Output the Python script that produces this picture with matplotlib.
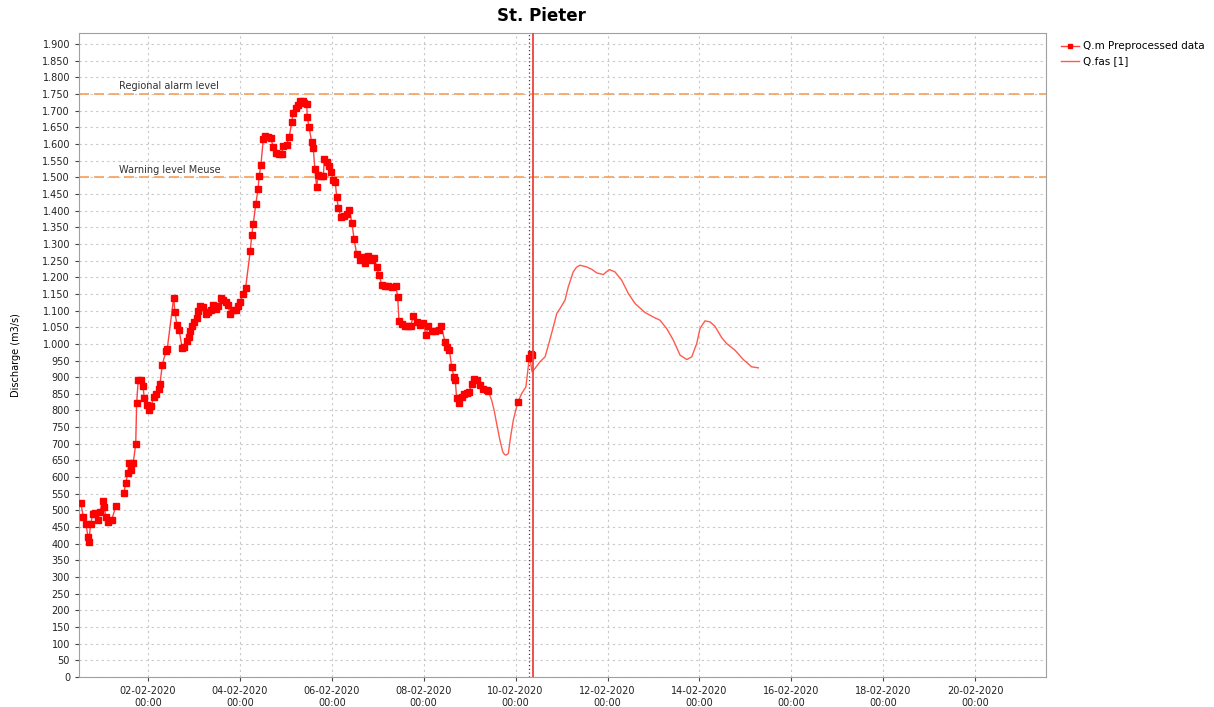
import numpy as np
import pandas as pd
import matplotlib
matplotlib.use("Agg")
import matplotlib.pyplot as plt
import matplotlib.dates as mdates
from matplotlib.ticker import MultipleLocator, FuncFormatter

# observed discharge, hours after 01-02-2020 00:00
obs_hours = [-11.0, -9.8, -8.4, -7.3, -7.0, -5.9, -4.9, -3.5, -2.3, -1.1, 0.3, 1.0, 2.1, 3.3, 5.0, 7.3,
             11.3, 12.4, 13.4, 14.2, 15.3, 16.3, 17.6, 18.1, 18.9, 20.3, 21.4, 22.1, 23.3, 24.7, 25.7,
             27.0, 28.2, 29.6, 30.3, 31.5, 33.4, 34.1, 37.4, 38.1, 39.1, 40.3, 41.8, 42.8, 44.2, 45.6,
             46.1, 47.1, 48.2, 49.4, 50.0, 51.2, 52.6, 54.1, 55.5, 56.7, 58.1, 59.5, 60.7, 62.0, 63.3,
             64.6, 65.6, 67.0, 68.4, 69.8, 71.2, 72.2, 73.5, 75.0, 77.4, 78.2, 79.0, 80.3, 81.5, 82.1,
             83.0, 84.2, 85.3, 86.8, 88.2, 89.4, 90.7, 92.3, 93.8, 94.7, 96.4, 97.8, 99.1, 99.9, 101.1,
             102.3, 103.4, 104.8, 105.6, 106.9, 107.2, 108.1, 109.5, 110.3, 111.2, 112.1, 112.9, 114.2,
             115.6, 116.1, 117.3, 118.7, 119.6, 120.8, 121.8, 122.6, 123.4, 124.8, 126.4, 127.8, 129.1,
             130.5, 131.6, 133.0, 134.7, 136.1, 137.3, 139.1, 140.8, 142.2, 143.4, 144.7, 146.2, 147.8,
             149.5, 151.3, 153.5, 154.4, 155.1, 156.5, 158.2, 160.0, 161.2, 162.6, 164.3, 166.1, 167.8,
             169.2, 170.4, 172.2, 173.9, 175.8, 177.2, 179.1, 180.0, 181.4, 182.6, 183.8, 184.5, 185.2,
             186.6, 187.8, 189.2, 190.5, 191.8, 193.1, 194.3, 195.7, 197.4, 199.1, 200.9, 201.7,
             217.1, 223.2, 223.9, 224.4]
obs_values = [521, 481, 458, 421, 404, 459, 489, 493, 471, 496, 528, 511, 481, 466, 471, 513,
              551, 581, 611, 643, 621, 643, 699, 823, 891, 891, 873, 836, 816, 801, 813,
              841, 851, 864, 881, 938, 978, 986, 1138, 1095, 1058, 1041, 989, 991, 1008, 1021,
              1039, 1053, 1067, 1079, 1098, 1114, 1111, 1091, 1095, 1101, 1116, 1105, 1113, 1139, 1133,
              1126, 1116, 1089, 1101, 1103, 1115, 1126, 1149, 1168, 1278, 1326, 1361, 1419, 1465, 1505,
              1537, 1614, 1624, 1622, 1618, 1590, 1572, 1569, 1570, 1595, 1597, 1622, 1667, 1694, 1707,
              1717, 1730, 1729, 1722, 1719, 1680, 1652, 1605, 1589, 1524, 1471, 1507, 1505,
              1504, 1555, 1547, 1534, 1517, 1492, 1487, 1440, 1408, 1381, 1384, 1391, 1402,
              1364, 1316, 1269, 1251, 1261, 1243, 1264, 1251, 1258, 1230, 1206, 1176, 1173,
              1173, 1171, 1173, 1141, 1069, 1061, 1053, 1053, 1054, 1083, 1066, 1056, 1063,
              1026, 1053, 1039, 1039, 1041, 1054, 1006, 991, 983, 931, 901, 893, 836,
              823, 839, 851, 853, 856, 881, 896, 891, 876, 864, 861, 859,
              824, 959, 971, 966]

# forecast (Q.fas [1])
fas_hours = [200.9, 202.2, 203.5, 204.8, 206.1, 207.8, 209.3, 210.2, 211.0, 212.2, 213.4, 214.8, 217.1,
             219.2, 221.4, 222.1, 223.2, 223.9, 224.6, 226.1, 228.7, 231.4, 233.6, 235.7, 237.5, 239.2,
             241.8, 243.5, 246.1, 247.8, 249.6, 253.1, 255.7, 258.4, 261.8, 263.4, 265.0, 267.9, 271.4,
             274.9, 278.4, 283.6, 288.8, 291.4, 294.9, 298.4, 301.9, 305.4, 308.0, 310.6, 312.3, 314.9,
             317.5, 320.1, 323.6, 326.2, 330.6, 334.9, 339.3, 342.8]
fas_values = [861, 850, 831, 800, 761, 711, 676, 668, 666, 671, 721, 771, 824,
              851, 871, 906, 961, 942, 916, 926, 946, 961, 1006, 1051, 1091, 1106,
              1131, 1171, 1216, 1230, 1236, 1231, 1224, 1213, 1208, 1216, 1223, 1216, 1191,
              1151, 1121, 1094, 1078, 1071, 1046, 1011, 966, 953, 961, 1001, 1046, 1069,
              1066, 1053, 1019, 1001, 981, 953, 931, 928]

levels = [1750, 1500]
level_names = ["Regional alarm level", "Warning level Meuse"]

base = pd.Timestamp("2020-02-01 00:00")
t0 = pd.Timestamp("2020-02-10 09:00")
t_last_obs = pd.Timestamp("2020-02-10 07:00")

def to_time(hours):
    return base + pd.to_timedelta(np.array(hours), unit="h")

# break the observed line where data is missing
oh = np.array(obs_hours)
ov = np.array(obs_values, dtype=float)
gaps = np.where(np.diff(oh) > 3.5)[0] + 1
oh_b = np.insert(oh, gaps, oh[gaps - 1] + 0.5)
ov_b = np.insert(ov, gaps, np.nan)

fig = plt.figure(figsize=(12.14, 7.07), dpi=100)
ax = fig.add_axes([0.0651, 0.0424, 0.7965, 0.9109])

ax.plot(to_time(fas_hours), fas_values, color="#ff5a4e", lw=1.0, label="Q.fas [1]", zorder=3)
ax.plot(to_time(oh_b), ov_b, color="#ff4040", lw=1.0, marker="s", ms=4.2, mec="#ff0000",
        mfc="#ff0000", label="Q.m Preprocessed data", zorder=4)

for lvl, name in zip(levels, level_names):
    ax.axhline(lvl, color="#f5a05a", lw=1.2, ls=(0, (6, 3)), zorder=2)
    ax.text(0.0414, lvl + 8, name, transform=ax.get_yaxis_transform(), fontsize=7,
            color="#333333", va="bottom", ha="left")

ax.axvline(t_last_obs, color="#444444", lw=0.9, ls=(0, (1, 2)), zorder=2)
ax.axvline(t0, color="#f04040", lw=1.3, zorder=5)

ax.set_xlim(pd.Timestamp("2020-01-31 12:00"), pd.Timestamp("2020-02-21 13:00"))
ax.set_ylim(0, 1933)

ax.xaxis.set_major_locator(mdates.DayLocator(bymonthday=range(2, 30, 2)))
ax.xaxis.set_major_formatter(mdates.DateFormatter("%d-%m-%Y\n%H:%M"))
ax.yaxis.set_major_locator(MultipleLocator(50))
ax.yaxis.set_major_formatter(FuncFormatter(lambda v, p: f"{int(round(v)):,}".replace(",", ".")))

ax.tick_params(labelsize=7, length=3, width=0.8, color="#444444", labelcolor="#222222")
ax.grid(True, color="#c8c8c8", ls=(0, (2, 3)), lw=0.8)
for s in ax.spines.values():
    s.set_color("#a0a0a0")

ax.set_ylabel("Discharge (m3/s)", fontsize=7)
ax.yaxis.set_label_coords(-0.060, 0.5)

fig.text(0.4456, 0.977, "St. Pieter", fontsize=12, fontweight="bold", ha="center", va="center")

handles, labels = ax.get_legend_handles_labels()
leg = fig.legend(handles[::-1], labels[::-1], loc="upper left", bbox_to_anchor=(0.866, 0.955),
                 frameon=False, fontsize=7.5, handlelength=1.8, handletextpad=0.3,
                 labelspacing=0.5, markerscale=0.8)

fig.savefig("out.png", dpi=100)
